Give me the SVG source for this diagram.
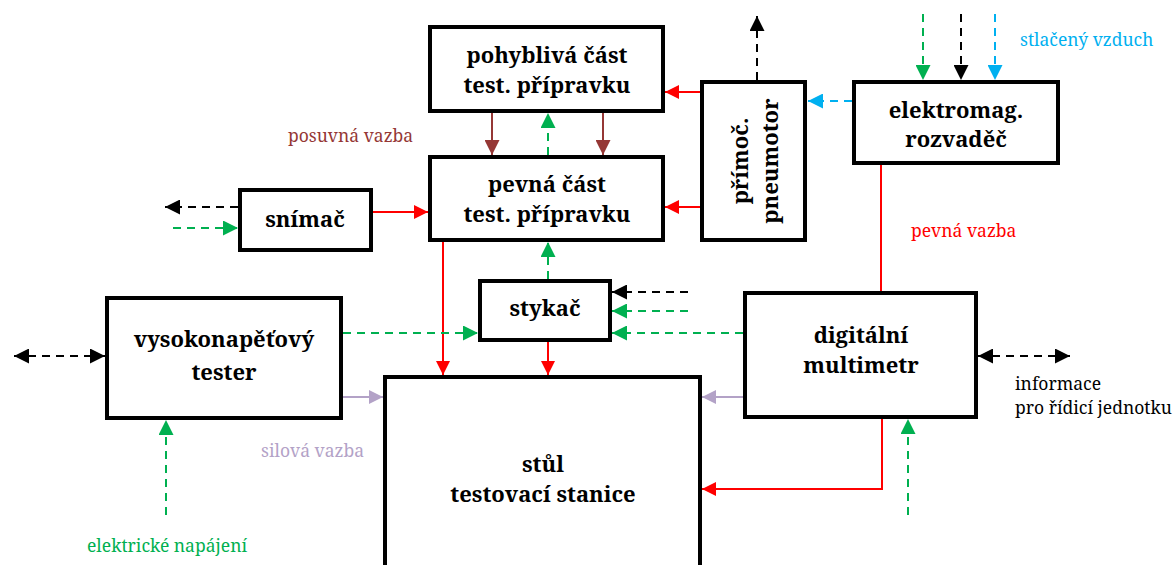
<svg xmlns="http://www.w3.org/2000/svg" width="1175" height="565" viewBox="0 0 1175 565">
<style>
.box{fill:#fff;stroke:#000;stroke-width:4}
.bt{font-family:'Noto Serif','DejaVu Serif',serif;font-weight:bold;font-size:22px;fill:#000;text-anchor:middle}
.lt{font-family:'Noto Serif','DejaVu Serif',serif;font-size:17.5px}
.c{fill:none;stroke-width:2}
.d{stroke-dasharray:8 6}
.red{stroke:#ff0000}.brn{stroke:#953735}.grn{stroke:#00b050}.blk{stroke:#000}.blu{stroke:#00b0f0}.pur{stroke:#b3a2c7}
</style>
<defs>
<marker id="mr" markerUnits="userSpaceOnUse" markerWidth="14" markerHeight="14" viewBox="0 0 14 14" refX="14" refY="7" orient="auto-start-reverse"><path d="M0,0L14,7L0,14z" fill="#ff0000"/></marker>
<marker id="mb" markerUnits="userSpaceOnUse" markerWidth="15" markerHeight="15" viewBox="0 0 15 15" refX="15" refY="7.5" orient="auto-start-reverse"><path d="M0,0L15,7.5L0,15z" fill="#953735"/></marker>
<marker id="mg" markerUnits="userSpaceOnUse" markerWidth="15" markerHeight="15" viewBox="0 0 15 15" refX="15" refY="7.5" orient="auto-start-reverse"><path d="M0,0L15,7.5L0,15z" fill="#00b050"/></marker>
<marker id="mk" markerUnits="userSpaceOnUse" markerWidth="15" markerHeight="15" viewBox="0 0 15 15" refX="15" refY="7.5" orient="auto-start-reverse"><path d="M0,0L15,7.5L0,15z" fill="#000"/></marker>
<marker id="mc" markerUnits="userSpaceOnUse" markerWidth="15" markerHeight="15" viewBox="0 0 15 15" refX="15" refY="7.5" orient="auto-start-reverse"><path d="M0,0L15,7.5L0,15z" fill="#00b0f0"/></marker>
<marker id="mp" markerUnits="userSpaceOnUse" markerWidth="14" markerHeight="14" viewBox="0 0 14 14" refX="14" refY="7" orient="auto-start-reverse"><path d="M0,0L14,7L0,14z" fill="#b3a2c7"/></marker>
</defs>

<g id="connectors">
<path class="c red" d="M700,92H665" marker-end="url(#mr)"/>
<path class="c red" d="M700,207H665" marker-end="url(#mr)"/>
<path class="c d blk" d="M757,80V16" marker-end="url(#mk)"/>
<path class="c d blu" d="M852,101H808" marker-end="url(#mc)"/>
<path class="c d grn" d="M923,14V80" marker-end="url(#mg)"/>
<path class="c d blk" d="M961,14V80" marker-end="url(#mk)"/>
<path class="c d blu" d="M995,14V80" marker-end="url(#mc)"/>
<path class="c red" d="M881,165V291"/>
<path class="c brn" d="M492,113V155" marker-end="url(#mb)"/>
<path class="c brn" d="M603,113V155" marker-end="url(#mb)"/>
<path class="c d grn" d="M548,155V113" marker-end="url(#mg)"/>
<path class="c red" d="M373,212H428" marker-end="url(#mr)"/>
<path class="c d blk" d="M238,207H165" marker-end="url(#mk)"/>
<path class="c d grn" d="M173,228H238" marker-end="url(#mg)"/>
<path class="c d grn" d="M548,279V242" marker-end="url(#mg)"/>
<path class="c red" d="M443,242V375" marker-end="url(#mr)"/>
<path class="c red" d="M548,342V375" marker-end="url(#mr)"/>
<path class="c d blk" d="M688,292H612" marker-end="url(#mk)"/>
<path class="c d grn" d="M688,311H612" marker-end="url(#mg)"/>
<path class="c d grn" d="M743,333H612" marker-end="url(#mg)"/>
<path class="c d grn" d="M343,333H478" marker-end="url(#mg)"/>
<path class="c d blk" d="M14,356H105" marker-start="url(#mk)" marker-end="url(#mk)"/>
<path class="c pur" d="M343,397H383" marker-end="url(#mp)"/>
<path class="c d grn" d="M166,515V420" marker-end="url(#mg)"/>
<path class="c pur" d="M743,397H702" marker-end="url(#mp)"/>
<path class="c red" d="M882,419V489H702" marker-end="url(#mr)"/>
<path class="c d grn" d="M908,515V419" marker-end="url(#mg)"/>
<path class="c d blk" d="M978,356H1070" marker-start="url(#mk)" marker-end="url(#mk)"/>
</g>

<g id="n-pohybliva"><rect class="box" x="430" y="27" width="233" height="84"/><text class="bt" x="547" y="63">pohyblivá část</text><text class="bt" x="547" y="93">test. přípravku</text></g>
<g id="n-pevna"><rect class="box" x="430" y="157" width="233" height="83"/><text class="bt" x="547" y="192">pevná část</text><text class="bt" x="547" y="222">test. přípravku</text></g>
<g id="n-pneumotor"><rect class="box" x="702" y="82" width="103" height="158"/><text class="bt" transform="translate(748,161) rotate(-90)">přímoč.</text><text class="bt" transform="translate(778,161) rotate(-90)">pneumotor</text></g>
<g id="n-elektromag"><rect class="box" x="854" y="82" width="204" height="81"/><text class="bt" x="956" y="118">elektromag.</text><text class="bt" x="956" y="147">rozvaděč</text></g>
<g id="n-snimac"><rect class="box" x="240" y="190" width="131" height="60"/><text class="bt" x="305" y="227">snímač</text></g>
<g id="n-stykac"><rect class="box" x="480" y="281" width="130" height="59"/><text class="bt" x="545" y="316">stykač</text></g>
<g id="n-tester"><rect class="box" x="107" y="298" width="234" height="120"/><text class="bt" x="224" y="347">vysokonapěťový</text><text class="bt" x="224" y="380">tester</text></g>
<g id="n-stul"><rect class="box" x="385" y="377" width="315" height="200"/><text class="bt" x="543" y="472">stůl</text><text class="bt" x="543" y="502">testovací stanice</text></g>
<g id="n-multimetr"><rect class="box" x="745" y="293" width="231" height="124"/><text class="bt" x="861" y="343">digitální</text><text class="bt" x="861" y="373">multimetr</text></g>

<g id="labels">
<text class="lt" x="288" y="142" fill="#953735">posuvná vazba</text>
<text class="lt" x="1020" y="46" fill="#00b0f0">stlačený vzduch</text>
<text class="lt" x="911" y="237" fill="#ff0000">pevná vazba</text>
<text class="lt" x="261" y="457" fill="#b3a2c7">silová vazba</text>
<text class="lt" x="87" y="552" fill="#00b050">elektrické napájení</text>
<text class="lt" x="1015" y="390" fill="#000">informace</text>
<text class="lt" x="1015" y="414" fill="#000">pro řídicí jednotku</text>
</g>
</svg>
